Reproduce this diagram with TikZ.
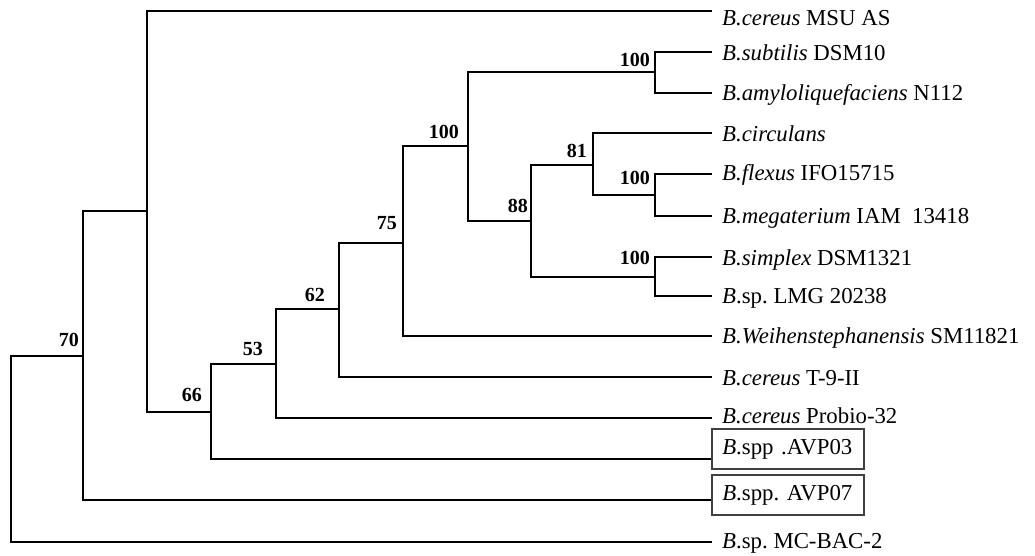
\documentclass[tikz,border=0pt]{standalone}
\usepackage{fontspec}
\setmainfont{Liberation Serif}
\begin{document}
\begin{tikzpicture}[x=1pt,y=-1pt,
  branch/.style={line width=2.4pt, line join=miter, black},
  leaflabel/.style={anchor=base west, inner sep=0pt, font=\fontsize{22.8}{26}\selectfont},
  boxlabel/.style={anchor=west, draw=black!75, line width=1.6pt, inner xsep=10.5pt, inner ysep=0pt,
     text width=131pt, minimum height=40pt, align=left, font=\fontsize{22.8}{26}\selectfont},
  boot/.style={anchor=base east, inner sep=0pt, font=\bfseries\fontsize{20}{24}\selectfont}]
\useasboundingbox (0,0) rectangle (1035,555);
% internal nodes
\coordinate (root) at (11,449);
\coordinate (n70) at (83,356);
\coordinate (nU) at (147,211);
\coordinate (n66) at (211,412);
\coordinate (n53) at (276,364);
\coordinate (n62) at (339,309);
\coordinate (n75) at (403,243);
\coordinate (nB) at (468,146);
\coordinate (nA) at (655,72);
\coordinate (n88) at (531,221);
\coordinate (n81) at (593,165);
\coordinate (nC) at (655,195);
\coordinate (nD) at (655,277);
% leaf tips
\coordinate (l1) at (712,11);
\coordinate (l2) at (712,52);
\coordinate (l3) at (712,93);
\coordinate (l4) at (712,133);
\coordinate (l5) at (712,174);
\coordinate (l6) at (712,216);
\coordinate (l7) at (712,257);
\coordinate (l8) at (712,296);
\coordinate (l9) at (712,336);
\coordinate (l10) at (712,377);
\coordinate (l11) at (712,418);
\coordinate (l12) at (711,459);
\coordinate (l13) at (711,500);
\coordinate (l14) at (712,542);
% branches
\draw[branch] (root) |- (n70);
\draw[branch] (root) |- (l14);
\draw[branch] (n70) |- (nU);
\draw[branch] (n70) |- (l13);
\draw[branch] (nU) |- (l1);
\draw[branch] (nU) |- (n66);
\draw[branch] (n66) |- (n53);
\draw[branch] (n66) |- (l12);
\draw[branch] (n53) |- (n62);
\draw[branch] (n53) |- (l11);
\draw[branch] (n62) |- (n75);
\draw[branch] (n62) |- (l10);
\draw[branch] (n75) |- (nB);
\draw[branch] (n75) |- (l9);
\draw[branch] (nB) |- (nA);
\draw[branch] (nB) |- (n88);
\draw[branch] (nA) |- (l2);
\draw[branch] (nA) |- (l3);
\draw[branch] (n88) |- (n81);
\draw[branch] (n88) |- (nD);
\draw[branch] (n81) |- (l4);
\draw[branch] (n81) |- (nC);
\draw[branch] (nC) |- (l5);
\draw[branch] (nC) |- (l6);
\draw[branch] (nD) |- (l7);
\draw[branch] (nD) |- (l8);
% leaf labels
\node[leaflabel] (t1) at (722,25.5) {\textit{B.cereus} MSU AS};
\node[leaflabel] (t2) at (722,60) {\textit{B.subtilis} DSM10};
\node[leaflabel] (t3) at (722,100.5) {\textit{B.amyloliquefaciens} N112};
\node[leaflabel] (t4) at (722,141) {\textit{B.circulans}};
\node[leaflabel] (t5) at (722,180) {\textit{B.flexus} IFO15715};
\node[leaflabel] (t6) at (722,223) {\textit{B.megaterium} IAM\ \ 13418};
\node[leaflabel] (t7) at (722,265) {\textit{B.simplex} DSM1321};
\node[leaflabel] (t8) at (722,303.5) {\textit{B}.sp.\ LMG 20238};
\node[leaflabel] (t9) at (722,343) {\textit{B.Weihenstephanensis} SM11821};
\node[leaflabel] (t10) at (722,385) {\textit{B.cereus} T-9-II};
\node[leaflabel] (t11) at (722,423.5) {\textit{B.cereus} Probio-32};
\node[boxlabel] (t12) at (711,449) {\mbox{\textit{B}.spp .AVP03}};
\node[boxlabel] (t13) at (711,495) {\mbox{\textit{B}.spp.\ AVP07}};
\node[leaflabel] (t14) at (722,548.5) {\textit{B}.sp.\ MC-BAC-2};
% bootstrap values
\node[boot] (bA) at (650,66.5) {100};
\node[boot] (bB) at (459,138.5) {100};
\node[boot] (b81) at (587,157.5) {81};
\node[boot] (bC) at (650,184.5) {100};
\node[boot] (b88) at (528,212) {88};
\node[boot] (b75) at (397,229) {75};
\node[boot] (bD) at (650,264.5) {100};
\node[boot] (b62) at (325,301) {62};
\node[boot] (b70) at (79,346) {70};
\node[boot] (b53) at (263,355) {53};
\node[boot] (b66) at (202,401) {66};
\end{tikzpicture}
\end{document}
